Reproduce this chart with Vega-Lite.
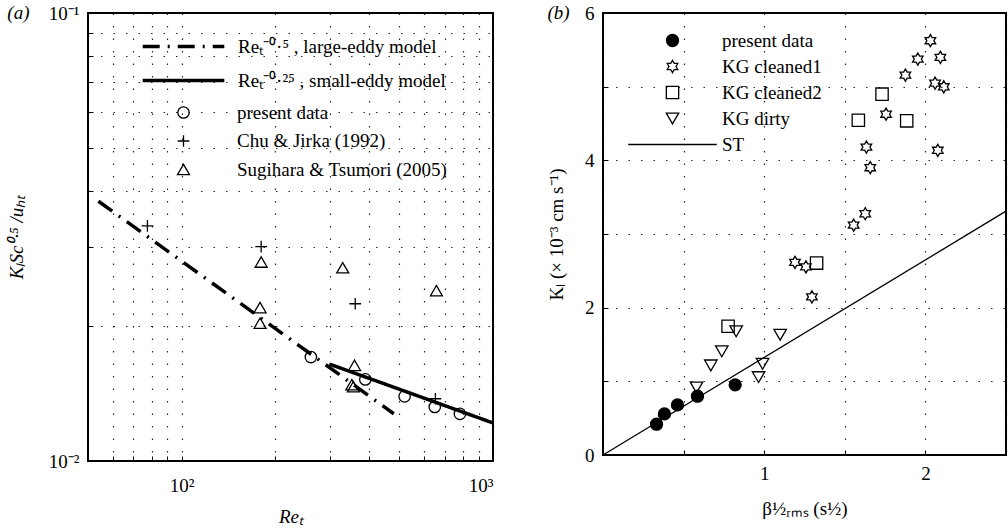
{
  "$schema": "https://vega.github.io/schema/vega-lite/v6.json",
  "background": "white",
  "padding": {"left": 6, "top": 3, "right": 0, "bottom": 0},
  "spacing": 45,
  "resolve": {
    "scale": {"shape": "independent", "size": "independent", "fill": "independent", "strokeDash": "independent", "x": "independent", "y": "independent"},
    "legend": {"shape": "independent", "size": "independent", "fill": "independent", "strokeDash": "independent"}
  },
  "config": {
    "font": "Liberation Serif",
    "view": {"stroke": "black", "strokeWidth": 2},
    "axis": {
      "labelFont": "Liberation Serif",
      "labelFontSize": 19,
      "labelColor": "black",
      "titleFont": "Liberation Serif",
      "titleFontSize": 19,
      "titleFontWeight": "normal",
      "titleColor": "black",
      "domain": false,
      "grid": true,
      "gridColor": "black",
      "gridDash": [1.5, 11],
      "gridWidth": 1.2,
      "gridOpacity": 0.85,
      "ticks": true,
      "tickColor": "black",
      "tickSize": -5,
      "labelPadding": 14
    },
    "legend": {
      "labelFont": "Liberation Serif",
      "labelFontSize": 19,
      "labelColor": "black",
      "labelLimit": 500,
      "padding": 0,
      "orient": "none"
    },
    "title": {"font": "Liberation Serif", "fontSize": 19, "fontWeight": "normal", "color": "black"}
  },
  "hconcat": [
    {
      "width": 405,
      "height": 448,
      "title": {"text": "(a)", "anchor": "start", "frame": "bounds", "fontStyle": "italic", "offset": -19},
      "layer": [
        {
          "data": {"values": [
            {"Re": 54, "K": 0.0380, "model": "Reₜ⁻⁰·⁵ , large-eddy model"},
            {"Re": 480, "K": 0.01275, "model": "Reₜ⁻⁰·⁵ , large-eddy model"},
            {"Re": 298, "K": 0.01646, "model": "Reₜ⁻⁰·²⁵ , small-eddy model"},
            {"Re": 1000, "K": 0.01216, "model": "Reₜ⁻⁰·²⁵ , small-eddy model"}
          ]},
          "mark": {"type": "line", "color": "black", "strokeWidth": 3.5},
          "encoding": {
            "x": {"field": "Re", "type": "quantitative",
                  "scale": {"type": "log", "domain": [50, 1000], "nice": false},
                  "axis": {"values": [60, 70, 80, 90, 100, 200, 300, 400, 500, 600, 700, 800, 900, 1000],
                           "labelExpr": "datum.value == 100 ? '10²' : (datum.value == 1000 ? '10³' : '')",
                           "labelPadding": 20,
                           "title": "Reₜ", "titleFontStyle": "italic", "titlePadding": 12}},
            "y": {"field": "K", "type": "quantitative",
                  "scale": {"type": "log", "domain": [0.01, 0.1], "nice": false},
                  "axis": {"values": [0.01, 0.02, 0.03, 0.04, 0.05, 0.06, 0.07, 0.08, 0.09, 0.1],
                           "labelExpr": "datum.value == 0.01 ? '10⁻²' : (datum.value == 0.1 ? '10⁻¹' : '')",
                           "title": "KₗSc⁰·⁵ /uₕₜ", "titleFontStyle": "italic", "titlePadding": 22}},
            "strokeDash": {"field": "model", "type": "nominal",
                  "scale": {"domain": ["Reₜ⁻⁰·⁵ , large-eddy model", "Reₜ⁻⁰·²⁵ , small-eddy model"], "range": [[17, 8, 2, 8], [1, 0]]},
                  "legend": {"title": null, "orient": "none", "legendX": 86, "legendY": 24, "symbolType": "M-6.8,0L6.8,0", "symbolSize": 144,
                             "symbolStrokeWidth": 3.5, "symbolStrokeColor": "black", "labelOffset": 45, "rowPadding": 14,
                             "labelFont": "Liberation Serif", "labelFontSize": 19, "labelLimit": 500}}
          }
        },
        {
          "data": {"values": [
            {"Re": 260, "K": 0.01706, "source": "present data"},
            {"Re": 389, "K": 0.01521, "source": "present data"},
            {"Re": 520, "K": 0.01394, "source": "present data"},
            {"Re": 650, "K": 0.0132, "source": "present data"},
            {"Re": 783, "K": 0.01274, "source": "present data"},
            {"Re": 77.6, "K": 0.0335, "source": "Chu & Jirka (1992)"},
            {"Re": 180, "K": 0.0301, "source": "Chu & Jirka (1992)"},
            {"Re": 361, "K": 0.02244, "source": "Chu & Jirka (1992)"},
            {"Re": 653, "K": 0.01377, "source": "Chu & Jirka (1992)"},
            {"Re": 180, "K": 0.0278, "source": "Sugihara & Tsumori (2005)"},
            {"Re": 329, "K": 0.0270, "source": "Sugihara & Tsumori (2005)"},
            {"Re": 658, "K": 0.0240, "source": "Sugihara & Tsumori (2005)"},
            {"Re": 178.5, "K": 0.0220, "source": "Sugihara & Tsumori (2005)"},
            {"Re": 178.5, "K": 0.0203, "source": "Sugihara & Tsumori (2005)"},
            {"Re": 359, "K": 0.01635, "source": "Sugihara & Tsumori (2005)"},
            {"Re": 352, "K": 0.0148, "source": "Sugihara & Tsumori (2005)"},
            {"Re": 356, "K": 0.01465, "source": "Sugihara & Tsumori (2005)"}
          ]},
          "mark": {"type": "point", "filled": false, "color": "black", "strokeWidth": 1.3, "opacity": 1},
          "encoding": {
            "x": {"field": "Re", "type": "quantitative"},
            "y": {"field": "K", "type": "quantitative"},
            "shape": {"field": "source", "type": "nominal",
                      "scale": {"domain": ["present data", "Chu & Jirka (1992)", "Sugihara & Tsumori (2005)"],
                                "range": ["circle", "M-1,0L1,0M0,-1L0,1", "triangle-up"]},
                      "legend": {"title": null, "orient": "none", "legendX": 86, "legendY": 90, "symbolStrokeWidth": 1.3,
                                 "symbolStrokeColor": "black", "labelOffset": 44, "rowPadding": 8.5,
                                 "labelFont": "Liberation Serif", "labelFontSize": 19, "labelLimit": 500}},
            "size": {"field": "source", "type": "nominal",
                     "scale": {"domain": ["present data", "Chu & Jirka (1992)", "Sugihara & Tsumori (2005)"], "range": [130, 144, 169]}}
          }
        }
      ]
    },
    {
      "width": 403,
      "height": 442,
      "title": {"text": "(b)", "anchor": "start", "frame": "bounds", "fontStyle": "italic", "offset": -19},
      "layer": [
        {
          "data": {"values": [
            {"b": 0, "K": 0},
            {"b": 2.5, "K": 3.31}
          ]},
          "mark": {"type": "line", "color": "black", "strokeWidth": 1.3},
          "encoding": {
            "x": {"field": "b", "type": "quantitative",
                  "scale": {"domain": [0, 2.5], "nice": false, "zero": false},
                  "axis": {"values": [0, 0.5, 1, 1.5, 2, 2.5],
                           "labelExpr": "datum.value == 1 ? '1' : (datum.value == 2 ? '2' : '')",
                           "title": "β½ᵣₘₛ (s½)", "titlePadding": 16}},
            "y": {"field": "K", "type": "quantitative",
                  "scale": {"domain": [0, 6], "nice": false},
                  "axis": {"values": [0, 1, 2, 3, 4, 5, 6],
                           "labelExpr": "datum.value % 2 == 0 ? format(datum.value, 'd') : ''",
                           "title": "Kₗ (× 10⁻³ cm s⁻¹)", "titlePadding": 18}}
          }
        },
        {
          "data": {"values": [
            {"b": 0.332, "K": 0.418, "series": "present data"},
            {"b": 0.381, "K": 0.558, "series": "present data"},
            {"b": 0.462, "K": 0.68, "series": "present data"},
            {"b": 0.586, "K": 0.798, "series": "present data"},
            {"b": 0.82, "K": 0.952, "series": "present data"},
            {"b": 1.191, "K": 2.615, "series": "KG cleaned1"},
            {"b": 1.259, "K": 2.554, "series": "KG cleaned1"},
            {"b": 1.296, "K": 2.146, "series": "KG cleaned1"},
            {"b": 1.555, "K": 3.121, "series": "KG cleaned1"},
            {"b": 1.627, "K": 3.275, "series": "KG cleaned1"},
            {"b": 1.658, "K": 3.9, "series": "KG cleaned1"},
            {"b": 1.634, "K": 4.18, "series": "KG cleaned1"},
            {"b": 1.756, "K": 4.626, "series": "KG cleaned1"},
            {"b": 1.876, "K": 5.157, "series": "KG cleaned1"},
            {"b": 1.953, "K": 5.374, "series": "KG cleaned1"},
            {"b": 2.031, "K": 5.624, "series": "KG cleaned1"},
            {"b": 2.093, "K": 5.397, "series": "KG cleaned1"},
            {"b": 2.06, "K": 5.048, "series": "KG cleaned1"},
            {"b": 2.114, "K": 4.998, "series": "KG cleaned1"},
            {"b": 2.077, "K": 4.136, "series": "KG cleaned1"},
            {"b": 0.776, "K": 1.747, "series": "KG cleaned2"},
            {"b": 1.325, "K": 2.605, "series": "KG cleaned2"},
            {"b": 1.584, "K": 4.544, "series": "KG cleaned2"},
            {"b": 1.731, "K": 4.898, "series": "KG cleaned2"},
            {"b": 1.884, "K": 4.536, "series": "KG cleaned2"},
            {"b": 0.58, "K": 0.917, "series": "KG dirty"},
            {"b": 0.669, "K": 1.216, "series": "KG dirty"},
            {"b": 0.737, "K": 1.407, "series": "KG dirty"},
            {"b": 0.826, "K": 1.679, "series": "KG dirty"},
            {"b": 1.099, "K": 1.633, "series": "KG dirty"},
            {"b": 0.99, "K": 1.238, "series": "KG dirty"},
            {"b": 0.965, "K": 1.057, "series": "KG dirty"}
          ]},
          "mark": {"type": "point", "stroke": "black", "strokeWidth": 1.3, "opacity": 1},
          "encoding": {
            "x": {"field": "b", "type": "quantitative"},
            "y": {"field": "K", "type": "quantitative"},
            "shape": {"field": "series", "type": "nominal",
                      "scale": {"domain": ["present data", "KG cleaned1", "KG cleaned2", "KG dirty", "ST"],
                                "range": ["circle",
                                          "M0,-1L0.289,-0.5L0.866,-0.5L0.577,0L0.866,0.5L0.289,0.5L0,1L-0.289,0.5L-0.866,0.5L-0.577,0L-0.866,-0.5L-0.289,-0.5Z",
                                          "square", "triangle-down", "M-7,0L7,0"]},
                      "legend": {"title": null, "orient": "none", "legendX": 60, "legendY": 18, "symbolStrokeWidth": 1.3,
                                 "symbolStrokeColor": "black", "labelOffset": 40, "rowPadding": 6,
                                 "labelFont": "Liberation Serif", "labelFontSize": 19, "labelLimit": 500}},
            "fill": {"field": "series", "type": "nominal",
                     "scale": {"domain": ["present data", "KG cleaned1", "KG cleaned2", "KG dirty", "ST"],
                               "range": ["black", "transparent", "transparent", "transparent", "transparent"]}},
            "size": {"field": "series", "type": "nominal",
                     "scale": {"domain": ["present data", "KG cleaned1", "KG cleaned2", "KG dirty", "ST"],
                               "range": [144, 160, 90, 170, 144]}}
          }
        }
      ]
    }
  ]
}
